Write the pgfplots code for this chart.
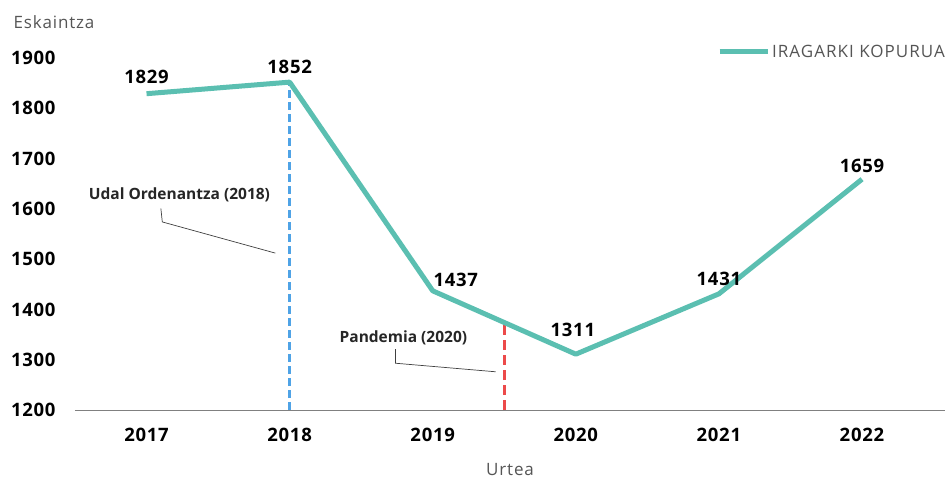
\documentclass[border=0pt]{standalone}
\usepackage{pgfplots}
\pgfplotsset{compat=1.18}
\usepackage{fontspec}
\setmainfont{Open Sans}
\definecolor{teal1}{HTML}{5BBFB1}
\definecolor{blue1}{HTML}{4FA3E6}
\definecolor{red1}{HTML}{EC4A4A}
\definecolor{gray1}{HTML}{555555}
\newcommand{\tickfont}{\fontsize{18.5}{21}\selectfont\bfseries\addfontfeature{LetterSpace=4}}
\newcommand{\lblfont}{\fontsize{17}{20}\selectfont\addfontfeature{LetterSpace=5}}
\begin{document}
\begin{tikzpicture}
\begin{axis}[
  scale only axis, width=870pt, height=352pt,
  xmin=2016.5, xmax=2022.58, ymin=1200, ymax=1900,
  axis x line*=bottom, axis y line*=left,
  x axis line style={gray, line width=0.8pt},
  y axis line style={draw=none},
  tick style={draw=none},
  xtick={2017,...,2022}, ytick={1200,1300,...,1900},
  /pgf/number format/assume math mode=true,
  xticklabel={\pgfmathprintnumber[1000 sep={}]{\tick}},
  yticklabel={\pgfmathprintnumber[1000 sep={}]{\tick}},
  ticklabel style={font=\tickfont},
  yticklabel style={anchor=east, xshift=-16pt},
  xticklabel style={anchor=center, yshift=-25pt},
  xlabel={Urtea},
  xlabel style={font=\lblfont, text=gray1, at={(rel axis cs:0.5,0)}, anchor=center, yshift=-60pt},
  ylabel={Eskaintza},
  every axis y label/.style={at={(rel axis cs:0,1)}, anchor=west, xshift=-65pt, yshift=36pt, font=\lblfont, text=gray1},
  legend style={at={(rel axis cs:1,1)}, anchor=east, yshift=6pt, xshift=2pt, draw=none, inner sep=0pt, font=\fontsize{17}{20}\selectfont\addfontfeature{LetterSpace=6}, text=gray1},
  legend cell align=left,
  legend image code/.code={\draw[#1, line width=5pt] (0pt,0pt) -- (48pt,0pt);},
  clip=false,
]
\addplot[blue1, line width=3pt, dash pattern=on 8pt off 4pt, forget plot] coordinates {(2018,1200) (2018,1852)};
\addplot[red1, line width=3pt, dash pattern=on 10pt off 5pt, forget plot] coordinates {(2019.5,1200) (2019.5,1374)};
\addplot[teal1, line width=5pt, line join=round, mark=none,
  nodes near coords, point meta=explicit symbolic,
  visualization depends on={\thisrow{dx} \as \dx},
  visualization depends on={\thisrow{dy} \as \dy},
  every node near coord/.append style={font=\tickfont, text=black, anchor=center, xshift=\dx pt, yshift=\dy pt}]
  table[meta=lab] {
x y lab dx dy
2017 1829 1829 0 17
2018 1852 1852 0 15
2019 1437 1437 23 11
2020 1311 1311 -3 24
2021 1431 1431 0 15
2022 1659 1659 0 13
};
\addlegendentry{IRAGARKI KOPURUA}
\addplot[black!75, line width=0.7pt, forget plot] coordinates {(2017.10,1601) (2017.11,1574) (2017.90,1512)};
\addplot[black!75, line width=0.7pt, forget plot] coordinates {(2018.74,1321) (2018.74,1293) (2019.44,1276)};
\node[font=\fontsize{15.5}{18}\selectfont\bfseries, text=black!85] at (axis cs:2017.23,1627) {Udal Ordenantza (2018)};
\node[font=\fontsize{15.5}{18}\selectfont\bfseries, text=black!85] at (axis cs:2018.795,1343) {Pandemia (2020)};
\coordinate (bl) at (rel axis cs:0,0);
\coordinate (tr) at (rel axis cs:1,1);
\end{axis}
\pgfresetboundingbox
\path ([shift={(-75pt,-74pt)}]bl) rectangle ([shift={(4pt,58pt)}]tr);
\end{tikzpicture}
\end{document}
